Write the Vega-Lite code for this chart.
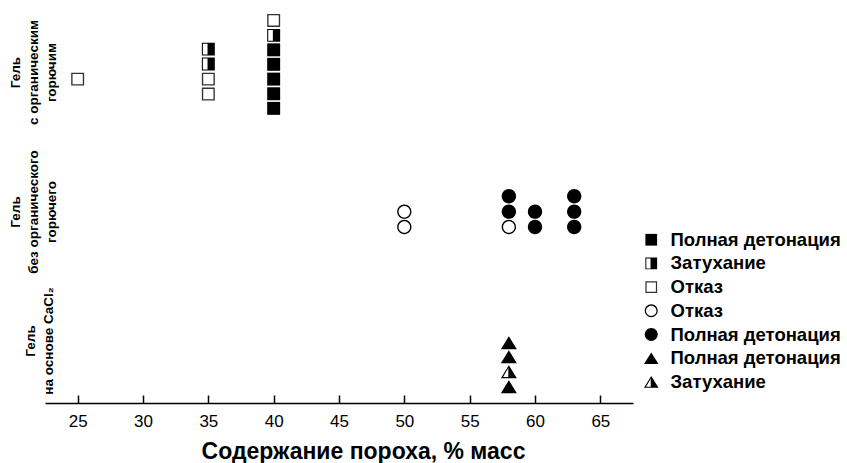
{
  "$schema": "https://vega.github.io/schema/vega-lite/v6.json",
  "width": 588,
  "height": 403,
  "autosize": {"type": "none"},
  "padding": {"left": 45, "top": 0, "right": 214, "bottom": 60},
  "background": "white",
  "config": {"view": {"stroke": null}, "font": "Liberation Sans"},
  "data": {
    "values": [
      {"x": 25, "y": 21.7, "k": "sq_open"},
      {"x": 35, "y": 23.71, "k": "sq_half"},
      {"x": 35, "y": 22.71, "k": "sq_half"},
      {"x": 35, "y": 21.7, "k": "sq_open"},
      {"x": 35, "y": 20.7, "k": "sq_open"},
      {"x": 40, "y": 25.63, "k": "sq_open"},
      {"x": 40, "y": 24.63, "k": "sq_half"},
      {"x": 40, "y": 23.66, "k": "sq_full"},
      {"x": 40, "y": 22.69, "k": "sq_full"},
      {"x": 40, "y": 21.7, "k": "sq_full"},
      {"x": 40, "y": 20.72, "k": "sq_full"},
      {"x": 40, "y": 19.74, "k": "sq_full"},
      {"x": 50, "y": 12.82, "k": "ci_open"},
      {"x": 50, "y": 11.79, "k": "ci_open"},
      {"x": 58, "y": 13.85, "k": "ci_full"},
      {"x": 58, "y": 12.82, "k": "ci_full"},
      {"x": 58, "y": 11.79, "k": "ci_open"},
      {"x": 60, "y": 12.82, "k": "ci_full"},
      {"x": 60, "y": 11.79, "k": "ci_full"},
      {"x": 63, "y": 13.85, "k": "ci_full"},
      {"x": 63, "y": 12.82, "k": "ci_full"},
      {"x": 63, "y": 11.79, "k": "ci_full"},
      {"x": 58, "y": 4.04, "k": "tr_full"},
      {"x": 58, "y": 3.1, "k": "tr_full"},
      {"x": 58, "y": 2.1, "k": "tr_half"},
      {"x": 58, "y": 1.09, "k": "tr_full"}
    ]
  },
  "mark": {"type": "point", "filled": true, "opacity": 1, "strokeWidth": 0, "size": 256},
  "encoding": {
    "x": {
      "field": "x",
      "type": "quantitative",
      "scale": {"domain": [22.5, 67.5], "nice": false, "zero": false},
      "axis": {
        "title": "Содержание пороха, % масс",
        "values": [25, 30, 35, 40, 45, 50, 55, 60, 65],
        "grid": false,
        "domainColor": "black",
        "domainWidth": 1.5,
        "tickColor": "black",
        "tickWidth": 1.5,
        "tickSize": -8,
        "labelPadding": 18,
        "labelFont": "Liberation Sans",
        "labelFontSize": 17,
        "labelColor": "black",
        "titleFont": "Liberation Sans",
        "titleFontSize": 23,
        "titleFontWeight": "bold",
        "titleColor": "black",
        "titleX": 318,
        "titleY": 55,
        "titleBaseline": "alphabetic",
        "titleAlign": "center"
      }
    },
    "y": {
      "field": "y",
      "type": "quantitative",
      "scale": {"domain": [0, 27], "nice": false, "zero": false},
      "axis": {
        "title": null,
        "values": [22.17, 12.83, 4.19],
        "labelExpr": "datum.value > 18 ? ['Гель', 'с органическим', 'горючим'] : datum.value > 8 ? ['Гель', 'без органического', 'горючего'] : ['Гель', 'на основе CaCl₂']",
        "labelAngle": 270,
        "labelAlign": "center",
        "labelBaseline": "middle",
        "labelFont": "Liberation Sans",
        "labelFontSize": 13.5,
        "labelFontWeight": "bold",
        "labelLineHeight": 18,
        "labelPadding": {"condition": {"test": "datum.value < 8", "value": 15}, "value": 30},
        "labelColor": "black",
        "labelOverlap": false,
        "labelFlush": false,
        "labelBound": false,
        "ticks": false,
        "tickSize": 0,
        "domain": false,
        "grid": false
      }
    },
    "shape": {
      "field": "k",
      "type": "nominal",
      "scale": {
        "domain": ["sq_full", "sq_half", "sq_open", "ci_open", "ci_full", "tr_full", "tr_half"],
        "range": [
          "M-0.81,-0.81H0.81V0.81H-0.81Z",
          "M-0.81,-0.81H0.81V0.81H-0.81Z M-0.68,-0.68V0.68H-0.1V-0.68Z",
          "M-0.81,-0.81H0.81V0.81H-0.81Z M-0.64,-0.64V0.64H0.64V-0.64Z",
          "M-0.894,0A0.894,0.894,0,1,0,0.894,0A0.894,0.894,0,1,0,-0.894,0Z M-0.72,0A0.72,0.72,0,1,1,0.72,0A0.72,0.72,0,1,1,-0.72,0Z",
          "M-0.894,0A0.894,0.894,0,1,0,0.894,0A0.894,0.894,0,1,0,-0.894,0Z",
          "M0,-0.81L1,0.81L-1,0.81Z",
          "M0,-0.81L1,0.81L-1,0.81Z M-0.07,-0.45L-0.72,0.66L-0.07,0.66Z"
        ]
      },
      "legend": {
        "orient": "none",
        "legendX": 597,
        "legendY": 230.5,
        "padding": 0,
        "title": null,
        "labelFont": "Liberation Sans",
        "labelFontSize": 18.5,
        "labelFontWeight": "bold",
        "labelColor": "black",
        "labelOffset": 10,
        "labelLimit": 300,
        "rowPadding": 4.7,
        "symbolSize": 210,
        "symbolStrokeWidth": 0,
        "labelExpr": "datum.label == 'sq_full' || datum.label == 'ci_full' || datum.label == 'tr_full' ? 'Полная детонация' : (datum.label == 'sq_half' || datum.label == 'tr_half' ? 'Затухание' : 'Отказ')"
      }
    },
    "fill": {
      "field": "k",
      "type": "nominal",
      "scale": {
        "domain": ["sq_full", "sq_half", "sq_open", "ci_open", "ci_full", "tr_full", "tr_half"],
        "range": ["#000000", "#000000", "#333333", "#000000", "#000000", "#000000", "#000000"]
      },
      "legend": {
        "orient": "none",
        "legendX": 597,
        "legendY": 230.5,
        "padding": 0,
        "title": null,
        "labelFont": "Liberation Sans",
        "labelFontSize": 18.5,
        "labelFontWeight": "bold",
        "labelColor": "black",
        "labelOffset": 10,
        "labelLimit": 300,
        "rowPadding": 4.7,
        "symbolSize": 210,
        "symbolStrokeWidth": 0,
        "labelExpr": "datum.label == 'sq_full' || datum.label == 'ci_full' || datum.label == 'tr_full' ? 'Полная детонация' : (datum.label == 'sq_half' || datum.label == 'tr_half' ? 'Затухание' : 'Отказ')"
      }
    }
  }
}
